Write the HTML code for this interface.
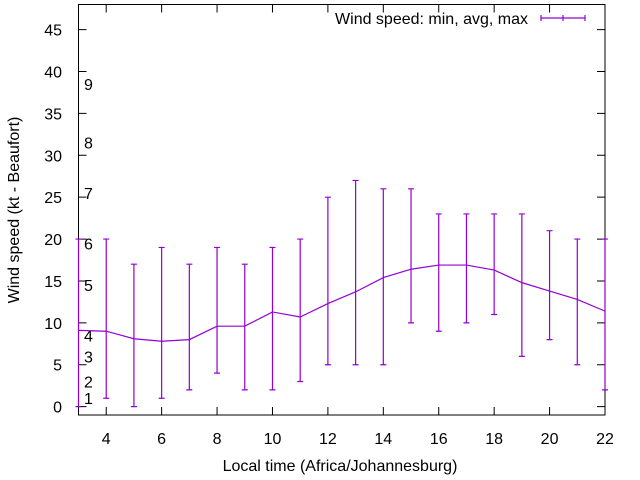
<!DOCTYPE html>
<html><head><meta charset="utf-8"><style>body{margin:0;background:#fff}svg{display:block;font-family:"Liberation Sans",sans-serif}</style></head>
<body>
<svg id="chart" width="640" height="480" xmlns="http://www.w3.org/2000/svg"></svg>
<script>
const hours=[3,4,5,6,7,8,9,10,11,12,13,14,15,16,17,18,19,20,21,22];
const avgSpeed=[9.1,9.0,8.1,7.8,8.0,9.6,9.6,11.3,10.7,12.3,13.7,15.4,16.4,16.9,16.9,16.3,14.8,13.8,12.8,11.4];
const minSpeed=[0,1,0,1,2,4,2,2,3,5,5,5,10,9,10,11,6,8,5,2];
const maxSpeed=[20,20,17,19,17,19,17,19,20,25,27,26,26,23,23,23,23,21,20,20];
const xTicks=[4,6,8,10,12,14,16,18,20,22];
const yTicks=[0,5,10,15,20,25,30,35,40,45];
const beaufortLabels=["1","2","3","4","5","6","7","8","9"];
const beaufortPos=[1,3,6,8.5,14.5,19.5,25.5,31.5,38.5];
const L=78.5,R=605,T=4.5,B=415,X0=3,X1=22,Y0=-1,Y1=48;
const sx=v=>L+(v-X0)/(X1-X0)*(R-L);
const sy=v=>B-(v-Y0)/(Y1-Y0)*(B-T);
const svg=document.getElementById('chart');const NS='http://www.w3.org/2000/svg';
function el(t,a,txt){const e=document.createElementNS(NS,t);for(const k in a)e.setAttribute(k,a[k]);if(txt!==undefined)e.textContent=txt;svg.appendChild(e);return e;}
let e;
e=el('rect',{x:L,y:T,width:R-L,height:B-T,fill:'none',stroke:'#000','stroke-width':1});


yTicks.forEach(v=>{const y=sy(v);
 e=el('path',{d:`M${L} ${y}h8M${R} ${y}h-8`,stroke:'#000'});
 
 
 e=el('text',{x:62,y:y+6,'text-anchor':'end','font-size':16},String(v));
 
 });
xTicks.forEach(v=>{const x=sx(v);
 e=el('path',{d:`M${x} ${B}v-8M${x} ${T}v8`,stroke:'#000'});
 
 
 e=el('text',{x:x,y:444,'text-anchor':'middle','font-size':16},String(v));
 
 });
beaufortLabels.forEach((s,i)=>{
 e=el('text',{x:84,y:sy(beaufortPos[i])+6,'font-size':16},s);
 
 });
const c='#9400d3';
hours.forEach((h,i)=>{const x=sx(h);
 e=el('path',{d:`M${x} ${sy(minSpeed[i])}V${sy(maxSpeed[i])}M${x-3} ${sy(minSpeed[i])}h6M${x-3} ${sy(maxSpeed[i])}h6`,stroke:c,'stroke-width':1.2,fill:'none'});
 
 });
e=el('polyline',{points:hours.map((h,i)=>sx(h)+','+sy(avgSpeed[i])).join(' '),fill:'none',stroke:c,'stroke-width':1.2});


e=el('text',{x:528,y:24,'text-anchor':'end','font-size':16},'Wind speed: min, avg, max');


e=el('path',{d:'M541 18h44M541 15v6M563 15v6M585 15v6',stroke:c,'stroke-width':1.2});


e=el('text',{x:340,y:471,'text-anchor':'middle','font-size':16},'Local time (Africa/Johannesburg)');


e=el('text',{x:0,y:0,'text-anchor':'middle','font-size':16,transform:'translate(19,210) rotate(-90)'},'Wind speed (kt - Beaufort)');


</script>
</body></html>
